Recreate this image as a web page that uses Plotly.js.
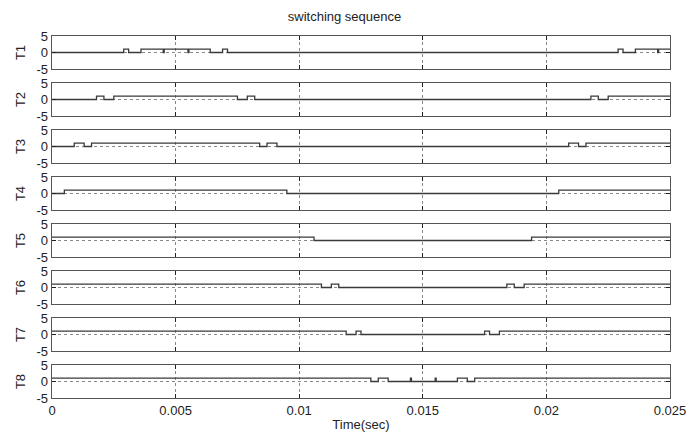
<!DOCTYPE html>
<html>
<head>
<meta charset="utf-8">
<script src="https://cdn.plot.ly/plotly-3.0.1.min.js"></script>
<style>html,body{margin:0;padding:0;background:#fff;}#chart{width:689px;height:434px;}</style>
</head>
<body>
<div id="chart"></div>
<script>
// Switching instants (s) and the level held from each instant (step 'hv')
const signalNames = ['T1','T2','T3','T4','T5','T6','T7','T8'];
const T1_t = [0, 0.0029, 0.0031, 0.0036, 0.0045, 0.00454, 0.0055, 0.00554, 0.0064, 0.0069, 0.0071, 0.0229, 0.0231, 0.0236, 0.0245, 0.02454, 0.025];
const T1_v = [0, 1, 0, 1, 0, 1, 0, 1, 0, 1, 0, 1, 0, 1, 0, 1, 1];
const T2_t = [0, 0.0018, 0.0021, 0.0025, 0.0075, 0.0079, 0.0082, 0.0218, 0.0221, 0.0225, 0.025];
const T2_v = [0, 1, 0, 1, 0, 1, 0, 1, 0, 1, 1];
const T3_t = [0, 0.0009, 0.0013, 0.0016, 0.0084, 0.0087, 0.0091, 0.0209, 0.0213, 0.0216, 0.025];
const T3_v = [0, 1, 0, 1, 0, 1, 0, 1, 0, 1, 1];
const T4_t = [0, 0.0005, 0.0095, 0.0205, 0.025];
const T4_v = [0, 1, 0, 1, 1];
const T5_t = [0, 0.0106, 0.0194, 0.025];
const T5_v = [1, 0, 1, 1];
const T6_t = [0, 0.0109, 0.0113, 0.0116, 0.0184, 0.0187, 0.0191, 0.025];
const T6_v = [1, 0, 1, 0, 1, 0, 1, 1];
const T7_t = [0, 0.0119, 0.0123, 0.0125, 0.0175, 0.0177, 0.0181, 0.025];
const T7_v = [1, 0, 1, 0, 1, 0, 1, 1];
const T8_t = [0, 0.0129, 0.0132, 0.0136, 0.0145, 0.01454, 0.0155, 0.01554, 0.0164, 0.0168, 0.0171, 0.025];
const T8_v = [1, 0, 1, 0, 1, 0, 1, 0, 1, 0, 1, 1];

const xTickVals = [0, 0.005, 0.01, 0.015, 0.02, 0.025];
const xTickText = ['0', '0.005', '0.01', '0.015', '0.02', '0.025'];
const yTickVals = [-5, 0, 5];
const yTickText = ['-5', '0', '5'];

const times = [T1_t, T2_t, T3_t, T4_t, T5_t, T6_t, T7_t, T8_t];
const levels = [T1_v, T2_v, T3_v, T4_v, T5_v, T6_v, T7_v, T8_v];

const FONT = 'Liberation Sans, Arial, sans-serif';
const TXT = '#222';
const traces = [];
const layout = {
  width: 689, height: 434,
  margin: {l: 52, r: 19, t: 36, b: 36},
  paper_bgcolor: '#fff', plot_bgcolor: '#fff',
  showlegend: false,
  font: {family: FONT, size: 13, color: TXT},
  title: {text: 'switching sequence', x: 0.5, xanchor: 'center', y: 0.962, yanchor: 'middle', font: {family: FONT, size: 13, color: TXT}}
};

const totalH = 434 - 36 - 36; // plot region height
const panelH = 33, pitch = 47;
for (let k = 0; k < 8; k++) {
  const n = k + 1;
  const xa = 'x' + (n === 1 ? '' : n), ya = 'y' + (n === 1 ? '' : n);
  traces.push({
    x: times[k], y: levels[k], type: 'scatter', mode: 'lines',
    line: {shape: 'hv', color: '#3a3a3a', width: 1.3},
    xaxis: xa, yaxis: ya, hoverinfo: 'skip'
  });
  const topPx = pitch * k;
  const botPx = topPx + panelH;
  const d0 = (totalH - botPx) / totalH, d1 = (totalH - topPx) / totalH;
  const xKey = 'xaxis' + (n === 1 ? '' : n), yKey = 'yaxis' + (n === 1 ? '' : n);
  layout[xKey] = {
    domain: [0, 1], anchor: ya, range: [0, 0.025],
    tickvals: xTickVals, ticktext: xTickText, showticklabels: n === 8,
    ticks: 'inside', ticklen: 4, tickcolor: '#222', tickwidth: 1.2,
    showline: true, linecolor: '#555', linewidth: 1.3, mirror: 'ticks',
    showgrid: true, gridcolor: '#888', griddash: 'dot', gridwidth: 1,
    zeroline: false, tickfont: {family: FONT, size: 13, color: TXT},
    title: n === 8 ? {text: 'Time(sec)', standoff: 3, font: {family: FONT, size: 13, color: TXT}} : {text: ''}
  };
  layout[yKey] = {
    domain: [d0, d1], anchor: xa, range: [-5, 5],
    tickvals: yTickVals, ticktext: yTickText,
    ticks: 'inside', ticklen: 4, tickcolor: '#222',
    showline: true, linecolor: '#555', linewidth: 1.3, mirror: 'ticks',
    showgrid: true, gridcolor: '#888', griddash: 'dot', gridwidth: 1,
    zeroline: false, tickfont: {family: FONT, size: 13, color: TXT},
    title: {text: signalNames[k], standoff: 8, font: {family: FONT, size: 13, color: TXT}}
  };
}

Plotly.newPlot('chart', traces, layout, {staticPlot: true, displayModeBar: false});
</script>
</body>
</html>
